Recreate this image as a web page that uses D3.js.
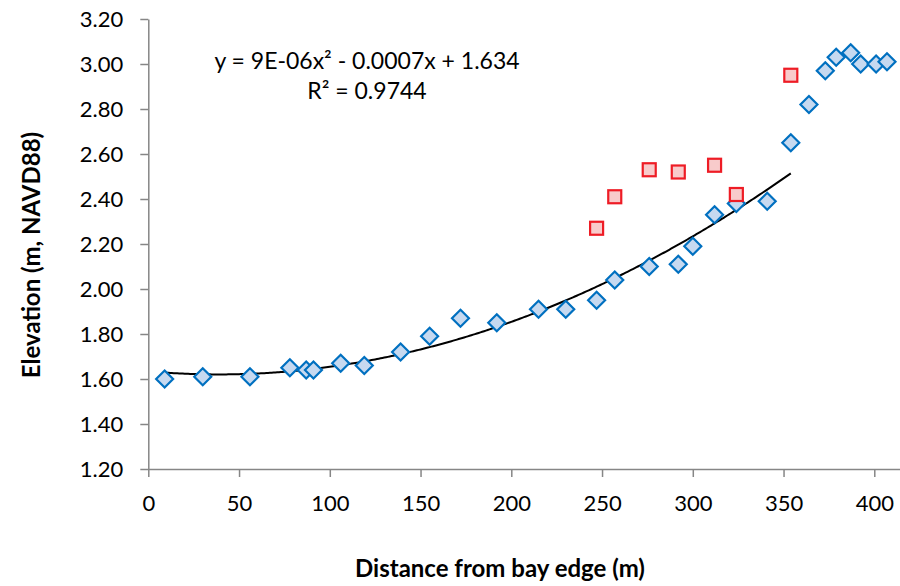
<!DOCTYPE html>
<html><head><meta charset="utf-8">
<script src="https://cdn.jsdelivr.net/npm/d3@7"></script>
<style>body{margin:0;background:#fff}svg{display:block}text{font-family:Lato,"Open Sans",sans-serif}</style>
</head><body><svg id="c" width="900" height="586"></svg>
<script>
const blueX = [9,30,56,78,87,91,106,119,139,155,172,192,215,230,247,257,276,292,300,312,324,341,354,364,373,379,387,392.5,401,407];
const blueY = [1.60,1.61,1.61,1.65,1.64,1.64,1.67,1.66,1.72,1.79,1.87,1.85,1.91,1.91,1.95,2.04,2.10,2.11,2.19,2.33,2.38,2.39,2.65,2.82,2.97,3.03,3.05,3.00,3.00,3.01];
const redX = [247,257,276,292,312,324,354];
const redY = [2.27,2.41,2.53,2.52,2.55,2.42,2.95];
const trendCoef = [1.634, -0.0007, 9e-6]; // y = c0 + c1 x + c2 x^2 (shown equation)
const trendRange = [9, 354];
const xTicks = [0,50,100,150,200,250,300,350,400];
const yTicks = [1.2,1.4,1.6,1.8,2.0,2.2,2.4,2.6,2.8,3.0,3.2];
const eqLines = ["y = 9E-06x\u00B2 - 0.0007x + 1.634", "R\u00B2 = 0.9744"];
const xTitle = "Distance from bay edge (m)";
const yTitle = "Elevation (m, NAVD88)";

const svg = d3.select("#c");
const x = d3.scaleLinear().domain([0, 414]).range([148.3, 899.7]);
const y = d3.scaleLinear().domain([1.2, 3.2]).range([469, 19]);
const axisCol = "#868686";

// axes
const gx = svg.append("g").attr("transform", `translate(0,${y(1.2)})`)
  .call(d3.axisBottom(x).tickValues(xTicks).tickSize(8).tickSizeOuter(0).tickFormat(d3.format("d")));
gx.select(".domain").attr("stroke", axisCol).attr("stroke-width", 1.5);
gx.selectAll(".tick line").attr("stroke", axisCol).attr("stroke-width", 1.5);
gx.selectAll(".tick text").attr("y", 42).attr("dy", 0).attr("font-size", 22).attr("fill", "#000")
  .style("font-family", "Lato");

const gy = svg.append("g").attr("transform", `translate(${x(0)},0)`)
  .call(d3.axisLeft(y).tickValues(yTicks).tickSize(8).tickSizeOuter(0).tickFormat(d3.format(".2f")));
gy.select(".domain").attr("stroke", axisCol).attr("stroke-width", 1.5);
gy.selectAll(".tick line").attr("stroke", axisCol).attr("stroke-width", 1.5);
gy.selectAll(".tick text").attr("x", -25).attr("dy", "0.35em").attr("font-size", 22).attr("fill", "#000")
  .style("font-family", "Lato");

// trendline
const tx = d3.range(trendRange[0], trendRange[1] + 0.001, 1);
const line = d3.line().x(d => x(d)).y(d => y(trendCoef[0] + trendCoef[1]*d + trendCoef[2]*d*d)).curve(d3.curveLinear);
svg.append("path").attr("d", line(tx)).attr("fill", "none").attr("stroke", "#000").attr("stroke-width", 2);

// blue diamonds
const blue = blueX.map((v,i)=>({x:v,y:blueY[i]}));
svg.append("g").selectAll("path").data(blue).join("path")
  .attr("transform", d => `translate(${x(d.x)},${y(d.y)})`)
  .attr("d", "M0,-8.5L8.5,0L0,8.5L-8.5,0Z")
  .attr("fill", "#C6D9F0").attr("stroke", "#0070C0").attr("stroke-width", 2.2);

// red squares
const red = redX.map((v,i)=>({x:v,y:redY[i]}));
svg.append("g").selectAll("rect").data(red).join("rect")
  .attr("x", d => x(d.x) - 6.5).attr("y", d => y(d.y) - 6.5)
  .attr("width", 13).attr("height", 13)
  .attr("fill", "#F8CBCB").attr("stroke", "#EE1C25").attr("stroke-width", 2.2);

// equation
svg.append("g").selectAll("text").data(eqLines).join("text")
  .attr("x", 367).attr("y", (d,i) => 69 + i*30).attr("text-anchor", "middle")
  .attr("font-size", 23).attr("fill", "#000").text(d => d);

// titles
svg.append("text").attr("x", 500).attr("y", 577).attr("text-anchor", "middle")
  .attr("font-size", 24).attr("font-weight", "bold").text(xTitle);
svg.append("text").attr("transform", "translate(40,255) rotate(-90)").attr("text-anchor", "middle")
  .attr("font-size", 24).attr("font-weight", "bold").text(yTitle);
</script></body></html>
